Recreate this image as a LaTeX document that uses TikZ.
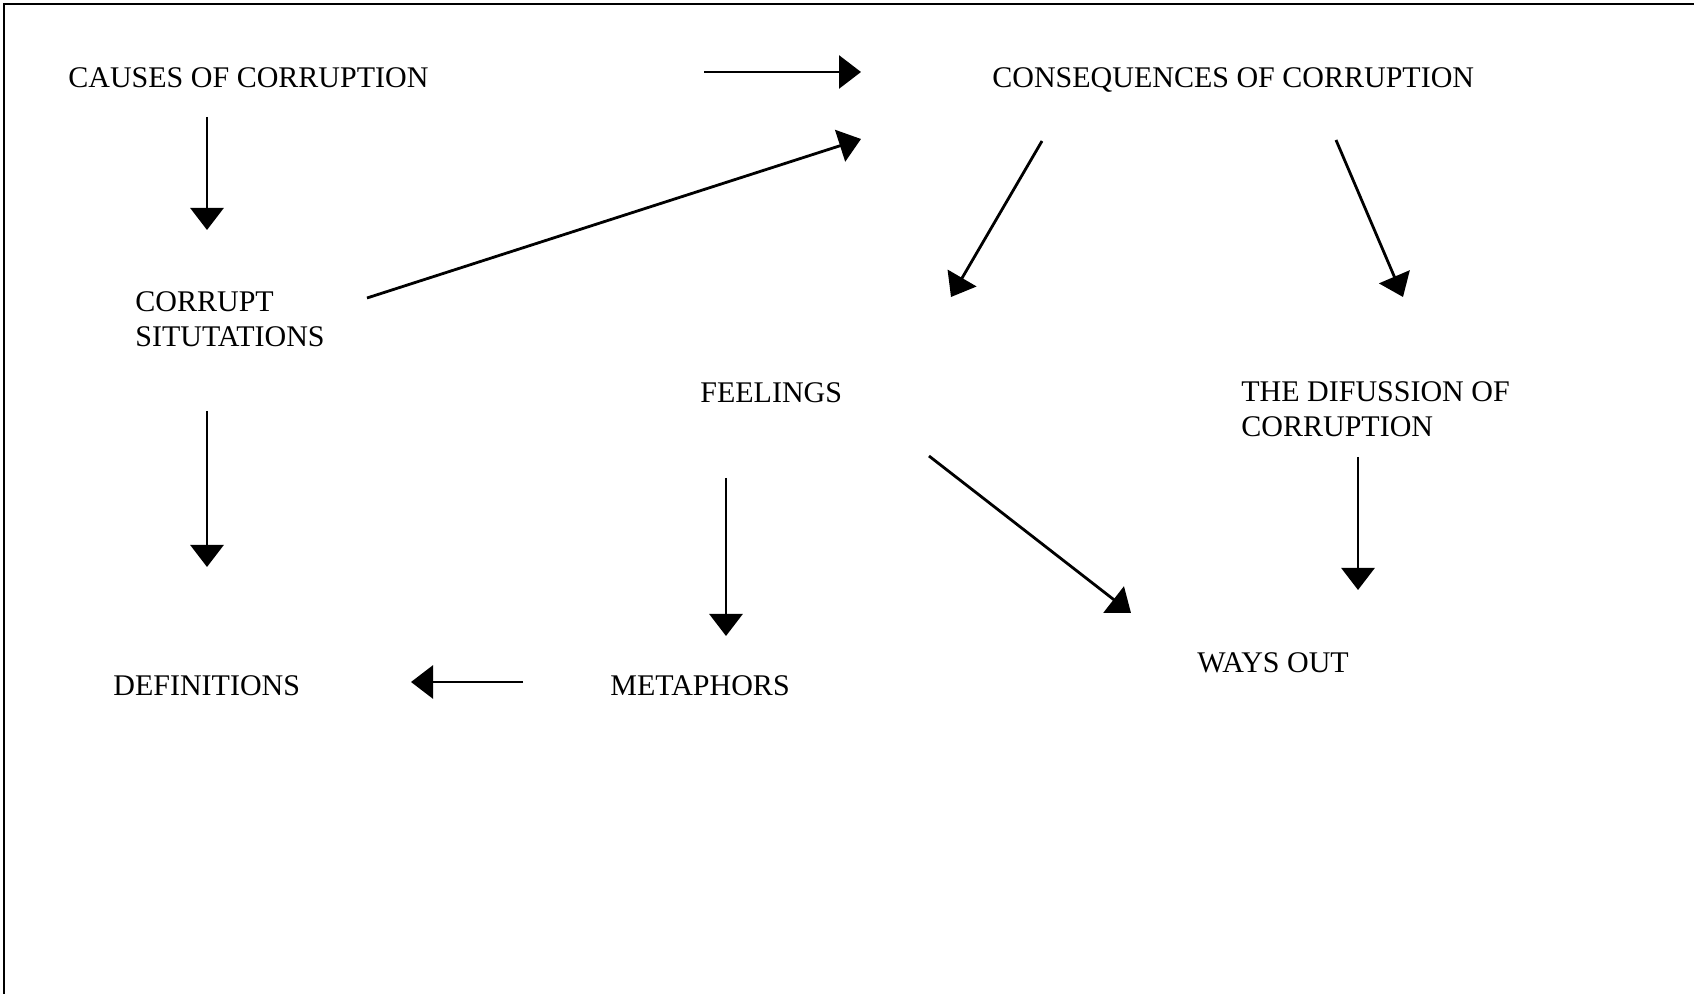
\documentclass[tikz,border=0pt]{standalone}
\usepackage{fontspec}
\setmainfont{Liberation Serif}
\usetikzlibrary{arrows.meta}
\begin{document}
\begin{tikzpicture}[x=0.5pt,y=-0.5pt,
  lbl/.style={anchor=base west,inner sep=0pt,align=left,font=\fontsize{15pt}{17.5pt}\selectfont},
  arr/.style={line width=1.4pt,-{Triangle[length=11pt,width=16.5pt]}}]
\useasboundingbox (0,0) rectangle (1694,994);
\draw[line width=1.3pt] (4,994) -- (4,4) -- (1694,4);
% labels
\node[lbl] (causes) at (68,88) {CAUSES OF CORRUPTION};
\node[lbl] (cons) at (992,88) {CONSEQUENCES OF CORRUPTION};
\node[lbl] (corrupt) at (135,347) {CORRUPT\\SITUTATIONS};
\node[lbl] (feel) at (700,403) {FEELINGS};
\node[lbl] (diff) at (1241,437) {THE DIFUSSION OF\\CORRUPTION};
\node[lbl] (ways) at (1197,673) {WAYS OUT};
\node[lbl] (meta) at (610,696) {METAPHORS};
\node[lbl] (defs) at (113,696) {DEFINITIONS};
% arrow ends
\coordinate (a1s) at (704,72);   \coordinate (a1e) at (861,72);
\coordinate (a2s) at (207,117);  \coordinate (a2e) at (207,230);
\coordinate (a3s) at (367,298);  \coordinate (a3e) at (861,139);
\coordinate (a4s) at (1042,141); \coordinate (a4e) at (951,297);
\coordinate (a5s) at (1336,140); \coordinate (a5e) at (1403,297);
\coordinate (a6s) at (207,411);  \coordinate (a6e) at (207,567);
\coordinate (a7s) at (726,478);  \coordinate (a7e) at (726,636);
\coordinate (a8s) at (929,456);  \coordinate (a8e) at (1131,613);
\coordinate (a9s) at (1358,457); \coordinate (a9e) at (1358,590);
\coordinate (a10s) at (523,682); \coordinate (a10e) at (411,682);
\draw[arr] (a1s) -- (a1e);
\draw[arr] (a2s) -- (a2e);
\draw[arr] (a3s) -- (a3e);
\draw[arr] (a4s) -- (a4e);
\draw[arr] (a5s) -- (a5e);
\draw[arr] (a6s) -- (a6e);
\draw[arr] (a7s) -- (a7e);
\draw[arr] (a8s) -- (a8e);
\draw[arr] (a9s) -- (a9e);
\draw[arr] (a10s) -- (a10e);
\end{tikzpicture}
\end{document}
